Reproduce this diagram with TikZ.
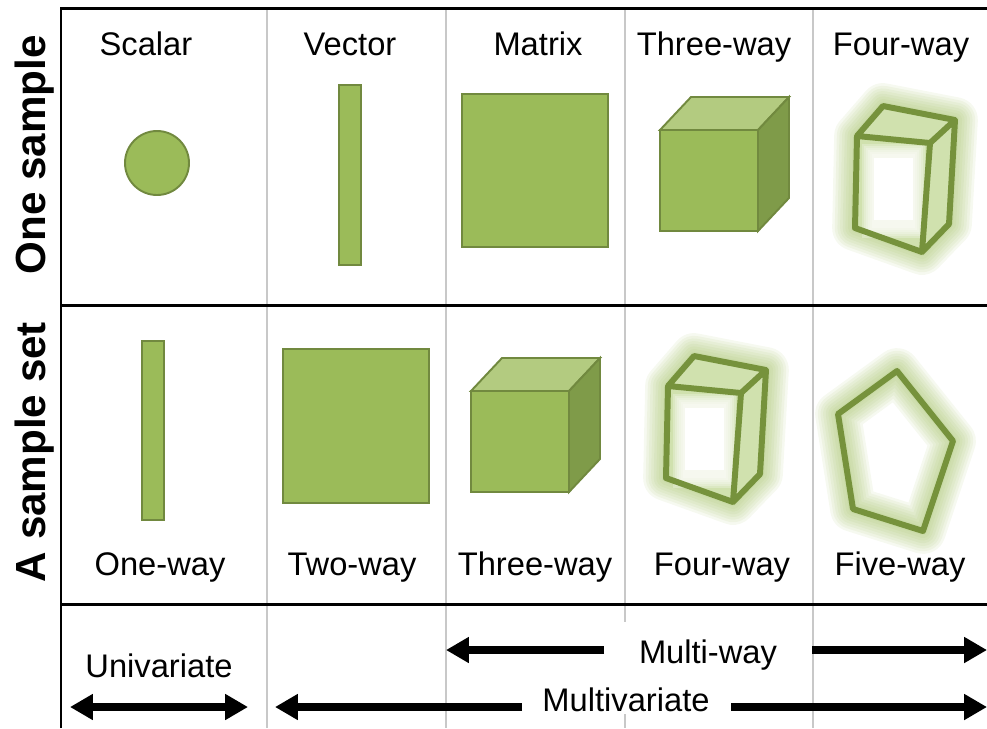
\documentclass[tikz,border=0pt]{standalone}
\usepackage{fontspec}
\setmainfont{Liberation Sans}
\usetikzlibrary{arrows.meta}
\definecolor{leaf}{HTML}{9BBB59}
\definecolor{leafedge}{HTML}{71893F}
\definecolor{leaftop}{HTML}{B3CB80}
\definecolor{leafside}{HTML}{7F9B49}
\definecolor{glowedge}{HTML}{76923C}
\definecolor{glowlight}{HTML}{9BBB59}
\definecolor{glowface}{HTML}{D0E1AE}
\definecolor{rulegray}{HTML}{C8C8C8}

% solid cube, front top-left corner at #1,#2
\newcommand\solidcube[2]{%
  \filldraw[greenbody] (#1,#2) rectangle ++(98,101);
  \filldraw[greenbody,fill=leaftop] (#1,#2) -- ++(31,-33) -- ++(98,0) -- ++(-31,33) -- cycle;
  \filldraw[greenbody,fill=leafside] (#1+98,#2) -- ++(31,-33) -- ++(0,101) -- ++(-31,33) -- cycle;
}
% soft glow behind a path
\newcommand\glowpath[1]{%
  \foreach \w in {26,23,...,5}
    {\draw[glowlight,line width=\w pt,opacity=0.09,line join=round,line cap=round] #1;}
}
% glowing box (four-way)
\newcommand\glowbox{%
  \glowpath{(857,136) -- (930,143) -- (922,252) -- (855,228) -- cycle (857,136) -- (883,106) -- (955,120) -- (949,224) -- (922,252) (930,143) -- (955,120)}
  \fill[glowface] (857,136) -- (930,143) -- (922,252) -- (855,228) -- cycle;
  \fill[glowface] (857,136) -- (883,106) -- (955,120) -- (930,143) -- cycle;
  \fill[glowface] (930,143) -- (955,120) -- (949,224) -- (922,252) -- cycle;
  \foreach \i in {0,2,...,10}
    {\fill[white,opacity=.25] (862+\i,144+\i) rectangle (925-\i,238-\i);}
  \fill[white] (874,158) rectangle (913,220);
  \draw[glowedge,line width=3.4pt,line join=round] (857,136) -- (930,143) -- (922,252) -- (855,228) -- cycle
    (857,136) -- (883,106) -- (955,120) -- (930,143) (955,120) -- (949,224) -- (922,252);
}

\begin{document}
\begin{tikzpicture}[x=0.02cm,y=-0.02cm,
  greenbody/.style={draw=leafedge,fill=leaf,line width=1.1pt},
  thickrule/.style={line width=1.7pt},
  thinrule/.style={rulegray,line width=0.6pt},
  lbl/.style={font=\fontsize{18.6}{22}\selectfont,anchor=base},
  rowlbl/.style={font=\fontsize{24}{28}\selectfont\bfseries,rotate=90},
  fatarrow/.style={line width=4.5pt,-{Triangle[length=13pt,width=14pt]}},
  fatboth/.style={line width=4.5pt,{Triangle[length=13pt,width=14pt]}-{Triangle[length=13pt,width=14pt]}}]
\useasboundingbox (0,0) rectangle (987,728);

% grid
\draw[thinrule] (267,8) -- (267,728);
\draw[thinrule] (446,8) -- (446,728);
\draw[thinrule] (625,8) -- (625,622) (625,714) -- (625,728);
\draw[thinrule] (813,8) -- (813,728);
\draw[thickrule] (61,728) -- (61,8) -- (987,8);
\draw[thickrule] (61,305) -- (987,305);
\draw[thickrule] (61,604) -- (987,604);

% row labels
\node[rowlbl] (onesample) at (35,155) {One sample};
\node[rowlbl] (sampleset) at (35,452) {A sample set};

% column headers
\node[lbl] (scalar) at (146,55) {Scalar};
\node[lbl] (vector) at (350,55) {Vector};
\node[lbl] (matrix) at (538,55) {Matrix};
\node[lbl] (threeway) at (714,55) {Three-way};
\node[lbl] (fourway) at (901,55) {Four-way};

% one sample
\filldraw[greenbody] (157,163) circle (32);
\filldraw[greenbody] (339,85) rectangle (361,265);
\filldraw[greenbody] (462,94) rectangle (608,247);
\solidcube{660}{130}
\begin{scope}
  \glowbox
\end{scope}

% sample set
\filldraw[greenbody] (142,341) rectangle (164,520);
\filldraw[greenbody] (283,349) rectangle (429,503);
\solidcube{471}{391}
\begin{scope}[shift={(-189,250)}]
  \glowbox
\end{scope}
\glowpath{(897,371) -- (953,441) -- (923,531) -- (853,509) -- (838,414) -- cycle}
\draw[glowedge,line width=3.4pt,line join=round] (897,371) -- (953,441) -- (923,531) -- (853,509) -- (838,414) -- cycle;

\node[lbl] (oneway) at (160,575) {One-way};
\node[lbl] (twoway) at (352,575) {Two-way};
\node[lbl] (threeway2) at (535,575) {Three-way};
\node[lbl] (fourway2) at (722,575) {Four-way};
\node[lbl] (fiveway) at (900,575) {Five-way};

% bottom row
\node[lbl] (univar) at (159,677) {Univariate};
\node[lbl] (multiway) at (708,663) {Multi-way};
\node[lbl] (multivar) at (626,711) {Multivariate};

\coordinate (uniL) at (70,707);
\coordinate (uniR) at (248,707);
\coordinate (mwL) at (446,650);
\coordinate (mwA) at (604,650);
\coordinate (mwB) at (812,650);
\coordinate (mwR) at (987,650);
\coordinate (mvL) at (275,707);
\coordinate (mvA) at (522,707);
\coordinate (mvB) at (731,707);
\coordinate (mvR) at (987,707);

\draw[fatboth] (uniL) -- (uniR);
\draw[fatarrow] (mwA) -- (mwL);
\draw[fatarrow] (mwB) -- (mwR);
\draw[fatarrow] (mvA) -- (mvL);
\draw[fatarrow] (mvB) -- (mvR);
\end{tikzpicture}
\end{document}
